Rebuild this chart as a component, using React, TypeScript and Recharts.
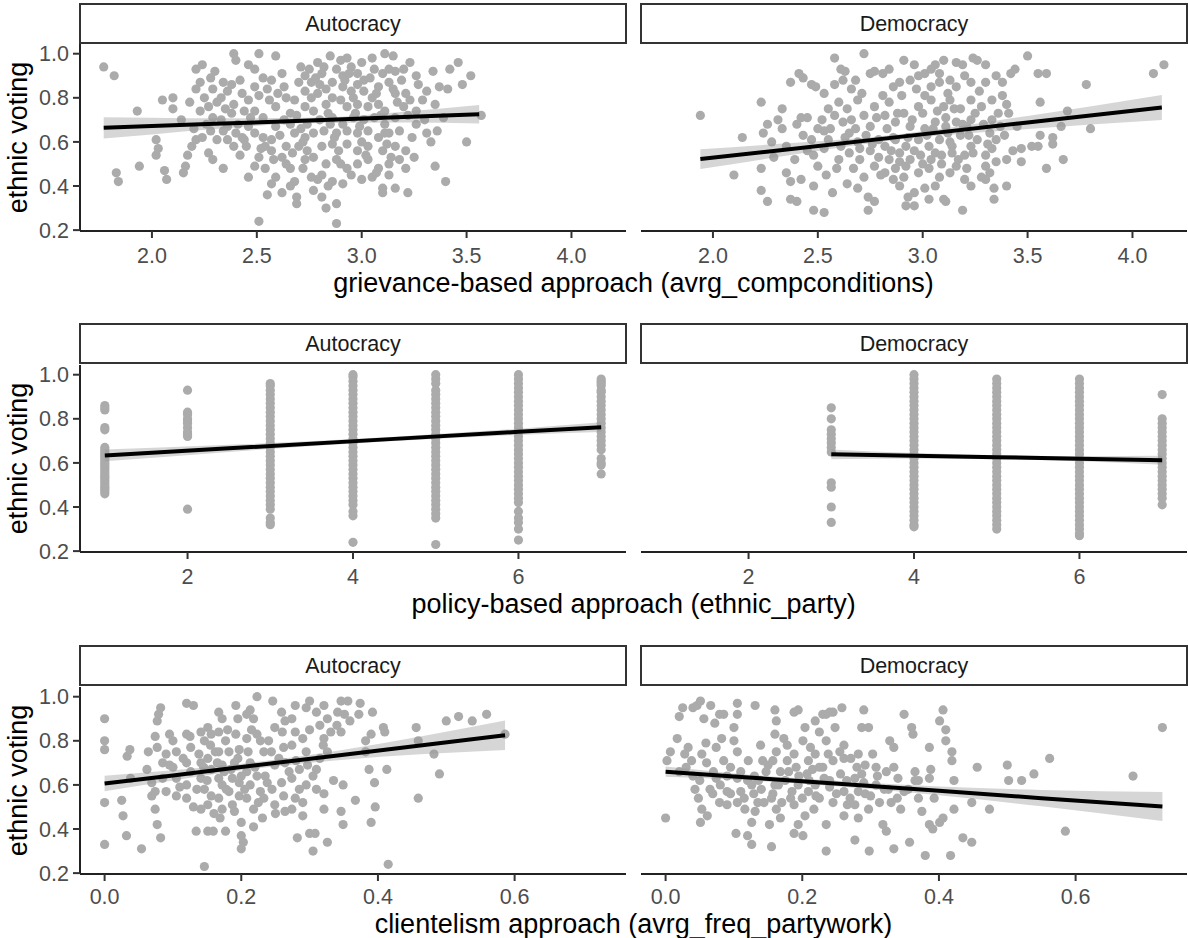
import React from "react";
import { ComposedChart, Scatter, Area, Line, XAxis, YAxis } from "recharts";

type Pt = [number, number];
type Fit = [number, number, number, number]; // x, fitted, lower, upper

const FONT = '"Liberation Sans", Arial, Helvetica, sans-serif';

const regimes = ["Autocracy", "Democracy"];
const yTicks = [0.2, 0.4, 0.6, 0.8, 1.0];
const yDomain: [number, number] = [0.196, 1.044];

// --- grievance-based approach ---
const grievTicks = [2.0, 2.5, 3.0, 3.5, 4.0];
const grievDomain: [number, number] = [1.657, 4.26];
const grievAut: Pt[] = [
  [1.77,0.94],[1.82,0.90],[1.83,0.46],[1.84,0.42],[1.94,0.49],[1.93,0.74],[2.05,0.79],[2.10,0.80],[2.10,0.75],[2.02,0.61],
  [2.03,0.57],[2.02,0.54],[2.06,0.47],[2.07,0.43],[2.15,0.46],[2.16,0.49],[2.17,0.54],[2.18,0.78],[2.14,0.70],[2.21,0.93],
  [2.24,0.95],[2.23,0.74],[2.23,0.87],[2.21,0.84],[2.19,0.58],[2.21,0.61],[2.24,0.62],[2.27,0.55],[2.29,0.52],[2.34,0.48],
  [2.30,0.92],[2.28,0.89],[2.29,0.84],[2.34,0.87],[2.33,0.80],[2.36,0.83],[2.39,1.00],[2.40,0.97],[2.39,0.77],[2.43,0.82],
  [2.38,0.73],[2.41,0.68],[2.36,0.67],[2.33,0.70],[2.29,0.71],[2.28,0.65],[2.31,0.61],[2.36,0.61],[2.39,0.58],[2.42,0.54],
  [2.43,0.62],[2.46,0.95],[2.49,0.93],[2.46,0.79],[2.49,0.85],[2.53,0.89],[2.51,1.00],[2.59,0.99],[2.56,0.79],[2.53,0.71],
  [2.49,0.74],[2.46,0.67],[2.49,0.64],[2.44,0.61],[2.53,0.62],[2.54,0.58],[2.57,0.61],[2.59,0.67],[2.62,0.91],[2.63,0.85],
  [2.64,0.80],[2.59,0.76],[2.66,0.73],[2.63,0.70],[2.49,0.49],[2.51,0.53],[2.54,0.48],[2.57,0.56],[2.59,0.44],[2.57,0.41],
  [2.55,0.36],[2.62,0.37],[2.62,0.53],[2.66,0.48],[2.68,0.42],[2.69,0.35],[2.69,0.32],[2.66,0.40],[2.46,0.44],[2.51,0.24],
  [2.71,0.94],[2.73,0.90],[2.76,0.87],[2.79,0.96],[2.81,0.91],[2.85,0.99],[2.90,0.97],[2.93,0.98],[2.88,0.93],[2.91,0.90],
  [2.95,0.94],[2.98,0.91],[3.00,0.96],[3.01,0.88],[3.05,0.98],[3.11,1.00],[3.15,0.99],[3.10,0.91],[3.13,0.93],[3.16,0.92],
  [3.20,0.93],[3.23,0.96],[3.26,0.90],[3.31,0.83],[3.42,0.93],[3.46,0.96],[3.52,0.90],[3.48,0.86],[3.41,0.84],[3.35,0.77],
  [3.26,0.74],[3.20,0.76],[3.16,0.82],[3.13,0.87],[3.08,0.85],[3.05,0.80],[3.01,0.83],[2.98,0.86],[2.95,0.83],[2.91,0.85],
  [2.86,0.87],[2.83,0.84],[2.79,0.82],[2.76,0.80],[2.73,0.83],[2.70,0.87],[2.68,0.79],[2.73,0.76],[2.77,0.74],[2.83,0.77],
  [2.86,0.80],[2.90,0.79],[2.93,0.76],[2.98,0.77],[3.03,0.76],[3.08,0.77],[3.11,0.74],[3.23,0.79],[2.86,0.71],[2.91,0.68],
  [2.96,0.71],[3.01,0.70],[3.06,0.71],[3.11,0.68],[3.16,0.71],[2.74,0.68],[2.80,0.70],[2.68,0.64],[2.73,0.62],[2.77,0.64],
  [2.82,0.65],[2.88,0.64],[2.93,0.65],[2.98,0.64],[3.03,0.65],[3.08,0.62],[3.13,0.64],[3.18,0.65],[3.26,0.68],[3.31,0.64],
  [3.36,0.65],[3.50,0.60],[3.57,0.72],[2.70,0.58],[2.74,0.56],[2.81,0.58],[2.86,0.59],[2.93,0.59],[2.98,0.56],[3.03,0.58],
  [3.10,0.56],[3.16,0.58],[3.21,0.56],[2.73,0.52],[2.77,0.53],[2.83,0.50],[2.88,0.52],[2.93,0.48],[2.98,0.50],[3.03,0.52],
  [3.08,0.48],[3.13,0.50],[3.18,0.52],[3.21,0.48],[2.76,0.44],[2.81,0.45],[2.86,0.42],[2.91,0.41],[3.00,0.43],[3.05,0.44],
  [3.10,0.39],[3.13,0.45],[3.16,0.39],[3.22,0.37],[3.10,0.37],[2.81,0.35],[2.83,0.30],[2.88,0.32],[2.88,0.23],[2.77,0.38],
  [3.35,0.49],[3.40,0.42],
  [2.25,0.80],[2.27,0.76],[2.31,0.78],[2.35,0.75],[2.38,0.86],[2.42,0.88],[2.44,0.74],[2.47,0.71],[2.51,0.81],[2.55,0.84],
  [2.57,0.88],[2.60,0.82],[2.61,0.63],[2.64,0.58],[2.67,0.55],[2.66,0.68],[2.69,0.72],[2.71,0.66],[2.72,0.60],[2.75,0.93],
  [2.78,0.89],[2.80,0.86],[2.82,0.94],[2.84,0.73],[2.85,0.68],[2.87,0.62],[2.89,0.56],[2.90,0.50],[2.92,0.88],[2.94,0.91],
  [2.96,0.80],[2.97,0.73],[2.99,0.67],[3.00,0.60],[3.02,0.54],[3.04,0.89],[3.06,0.93],[3.07,0.82],[3.09,0.72],[3.11,0.64],
  [3.12,0.59],[3.14,0.53],[3.15,0.84],[3.17,0.78],[3.19,0.88],[3.21,0.82],[3.22,0.72],[3.24,0.62],[3.25,0.53],[3.27,0.86],
  [3.29,0.79],[3.30,0.70],[3.33,0.60],[3.34,0.92],[3.37,0.85],[3.39,0.71],[2.79,0.43],[2.84,0.40],[2.95,0.45],[3.07,0.46],
  [2.72,0.48],[2.64,0.50],[2.58,0.52],[2.52,0.57],[2.45,0.58],[2.40,0.64],[2.34,0.65],[2.26,0.68],[2.20,0.66],
];
const grievDem: Pt[] = [
  [1.94,0.72],[2.14,0.62],[2.10,0.45],[2.23,0.78],[2.23,0.48],[2.23,0.38],[2.26,0.33],[2.24,0.64],[2.26,0.68],[2.28,0.60],
  [2.29,0.53],[2.33,0.75],[2.33,0.66],[2.35,0.58],[2.35,0.46],[2.37,0.87],[2.41,0.91],[2.43,0.89],[2.37,0.42],[2.37,0.34],
  [2.40,0.33],[2.39,0.52],[2.42,0.71],[2.45,0.71],[2.43,0.63],[2.42,0.43],[2.48,0.29],[2.53,0.28],[2.48,0.40],[2.47,0.86],
  [2.49,0.85],[2.53,0.82],[2.58,0.98],[2.61,0.93],[2.63,0.92],[2.58,0.86],[2.52,0.70],[2.50,0.66],[2.55,0.61],[2.53,0.57],
  [2.48,0.54],[2.50,0.49],[2.54,0.45],[2.57,0.37],[2.59,0.48],[2.60,0.52],[2.55,0.75],[2.60,0.78],[2.64,0.75],[2.62,0.69],
  [2.66,0.84],[2.69,0.79],[2.72,1.00],[2.75,0.91],[2.77,0.92],[2.81,0.91],[2.84,0.93],[2.65,0.64],[2.69,0.60],[2.65,0.55],
  [2.70,0.52],[2.67,0.48],[2.64,0.41],[2.69,0.39],[2.74,0.35],[2.74,0.29],[2.77,0.33],[2.72,0.44],[2.77,0.49],[2.75,0.56],
  [2.79,0.61],[2.75,0.67],[2.72,0.72],[2.77,0.76],[2.81,0.81],[2.84,0.78],[2.86,0.85],[2.89,0.87],[2.91,0.97],[2.96,0.95],
  [2.98,0.90],[3.01,0.91],[3.04,0.93],[3.06,0.95],[3.10,0.97],[3.16,0.96],[3.19,0.95],[3.24,0.98],[3.26,0.97],[3.30,0.95],
  [2.82,0.72],[2.87,0.69],[2.91,0.73],[2.94,0.67],[2.98,0.76],[3.01,0.81],[3.04,0.85],[3.08,0.87],[3.13,0.88],[3.16,0.85],
  [3.20,0.90],[3.23,0.87],[3.04,0.79],[3.10,0.76],[3.13,0.79],[3.18,0.75],[3.23,0.79],[3.28,0.76],[3.30,0.87],[3.35,0.90],
  [3.38,0.87],[3.42,0.91],[3.44,0.93],[3.38,0.81],[3.40,0.77],[3.41,0.73],[3.33,0.70],[3.37,0.67],[3.32,0.64],[3.35,0.61],
  [3.33,0.57],[3.30,0.54],[3.35,0.51],[3.40,0.52],[3.30,0.49],[3.26,0.61],[3.23,0.58],[3.20,0.54],[3.21,0.48],[3.20,0.43],
  [3.23,0.40],[3.28,0.44],[3.32,0.46],[3.30,0.43],[3.34,0.39],[3.40,0.40],[3.34,0.34],[3.11,0.33],[3.19,0.29],[3.10,0.34],
  [3.06,0.40],[3.03,0.34],[2.96,0.31],[2.92,0.31],[2.93,0.35],[2.96,0.37],[3.01,0.39],[2.89,0.40],[2.86,0.43],[2.82,0.46],
  [2.87,0.48],[2.92,0.49],[2.98,0.46],[3.03,0.48],[3.08,0.44],[3.13,0.46],[3.16,0.49],[2.84,0.52],[2.89,0.55],[2.94,0.52],
  [2.99,0.54],[3.04,0.52],[3.09,0.54],[3.14,0.55],[2.82,0.58],[2.87,0.61],[2.92,0.58],[2.98,0.61],[3.03,0.58],[3.08,0.61],
  [3.13,0.60],[3.18,0.63],[3.21,0.67],[3.16,0.69],[3.11,0.67],[3.06,0.69],[3.01,0.66],[3.23,0.70],[3.47,0.57],[3.47,0.51],
  [3.52,0.58],[3.55,0.58],[3.56,0.63],[3.56,0.78],[3.55,0.91],[3.59,0.91],[3.50,0.99],[3.59,0.48],[3.62,0.62],[3.62,0.59],
  [3.66,0.67],[3.69,0.74],[3.67,0.52],[3.78,0.86],[3.80,0.66],[4.10,0.91],[4.15,0.95],
  [2.56,0.66],[2.58,0.72],[2.61,0.58],[2.63,0.62],[2.66,0.70],[2.68,0.66],[2.70,0.57],[2.71,0.82],[2.73,0.63],[2.76,0.59],
  [2.78,0.71],[2.79,0.53],[2.80,0.45],[2.83,0.66],[2.85,0.56],[2.86,0.62],[2.88,0.73],[2.89,0.51],[2.90,0.81],[2.91,0.44],
  [2.93,0.62],[2.95,0.70],[2.96,0.56],[2.97,0.84],[3.00,0.73],[3.00,0.50],[3.02,0.63],[3.05,0.66],[3.06,0.55],[3.07,0.74],
  [3.09,0.50],[3.11,0.71],[3.12,0.64],[3.14,0.58],[3.15,0.75],[3.17,0.52],[3.19,0.68],[3.22,0.63],[3.24,0.55],[3.25,0.73],
  [3.27,0.83],[3.29,0.68],[3.31,0.59],[3.33,0.79],[3.36,0.73],[3.39,0.63],[3.43,0.56],[3.45,0.67],[2.53,0.65],[2.47,0.61],
  [2.45,0.56],[2.40,0.68],[2.31,0.70],[2.62,0.88],[2.68,0.88],[2.94,0.88],[3.08,0.91],[3.12,0.82],
];
const grievAutFit: Fit[] = [
  [1.77,0.664,0.616,0.712],[2.0,0.672,0.634,0.710],[2.3,0.682,0.658,0.707],[2.75,0.697,0.685,0.709],[3.2,0.713,0.688,0.737],[3.56,0.725,0.683,0.767],
];
const grievDemFit: Fit[] = [
  [1.94,0.522,0.477,0.567],[2.3,0.560,0.530,0.590],[2.9,0.624,0.612,0.636],[3.5,0.688,0.658,0.718],[4.14,0.756,0.699,0.813],
];

// --- policy-based approach ---
const policyTicks = [2, 4, 6];
const policyDomain: [number, number] = [0.7, 7.3];
const policyAutCols: [number, number[]][] = [
  [1, [0.86,0.85,0.84,0.76,0.75,0.67,0.66,0.65,0.64,0.63,0.62,0.61,0.60,0.59,0.58,0.57,0.56,0.55,0.54,0.53,0.52,0.51,0.50,0.49,0.48,0.47,0.46]],
  [2, [0.93,0.83,0.82,0.80,0.79,0.78,0.76,0.74,0.73,0.72,0.39]],
  [3, [0.96,0.95,0.93,0.91,0.89,0.87,0.85,0.83,0.81,0.79,0.77,0.75,0.73,0.71,0.69,0.67,0.65,0.63,0.61,0.59,0.57,0.55,0.53,0.51,0.49,0.47,0.45,0.43,0.41,0.39,0.35,0.33,0.32]],
  [4, [1.00,0.99,0.97,0.95,0.93,0.91,0.89,0.87,0.85,0.83,0.81,0.79,0.77,0.75,0.73,0.71,0.69,0.67,0.65,0.63,0.61,0.59,0.57,0.55,0.53,0.51,0.49,0.47,0.45,0.43,0.41,0.38,0.36,0.24]],
  [5, [1.00,0.98,0.96,0.93,0.91,0.89,0.87,0.85,0.83,0.81,0.79,0.77,0.75,0.73,0.71,0.69,0.67,0.65,0.63,0.61,0.59,0.57,0.55,0.53,0.51,0.49,0.47,0.45,0.43,0.41,0.39,0.37,0.35,0.23]],
  [6, [1.00,0.98,0.96,0.94,0.92,0.90,0.88,0.86,0.84,0.82,0.80,0.78,0.76,0.74,0.72,0.70,0.68,0.66,0.64,0.62,0.60,0.58,0.56,0.54,0.52,0.50,0.48,0.46,0.44,0.42,0.38,0.35,0.33,0.30,0.25]],
  [7, [0.98,0.97,0.96,0.95,0.93,0.92,0.90,0.88,0.86,0.84,0.82,0.80,0.78,0.76,0.74,0.72,0.70,0.68,0.66,0.62,0.60,0.59,0.55]],
];
const policyDemCols: [number, number[]][] = [
  [3, [0.85,0.80,0.75,0.73,0.71,0.69,0.67,0.65,0.51,0.49,0.40,0.33]],
  [4, [1.00,0.98,0.96,0.94,0.92,0.90,0.88,0.86,0.84,0.82,0.80,0.78,0.76,0.74,0.72,0.70,0.68,0.66,0.64,0.62,0.60,0.58,0.56,0.54,0.52,0.50,0.48,0.46,0.44,0.42,0.40,0.38,0.36,0.34,0.32,0.31]],
  [5, [0.98,0.96,0.94,0.92,0.90,0.88,0.86,0.84,0.82,0.80,0.78,0.76,0.74,0.72,0.70,0.68,0.66,0.64,0.62,0.60,0.58,0.56,0.54,0.52,0.50,0.48,0.46,0.44,0.42,0.40,0.38,0.36,0.34,0.32,0.30]],
  [6, [0.98,0.96,0.94,0.92,0.90,0.88,0.86,0.84,0.82,0.80,0.78,0.76,0.74,0.72,0.70,0.68,0.66,0.64,0.62,0.60,0.58,0.56,0.54,0.52,0.50,0.48,0.46,0.44,0.42,0.40,0.38,0.36,0.34,0.32,0.30,0.28,0.27]],
  [7, [0.91,0.80,0.78,0.76,0.74,0.72,0.70,0.68,0.66,0.64,0.62,0.60,0.58,0.56,0.54,0.52,0.50,0.48,0.46,0.44,0.41]],
];
const policyAutFit: Fit[] = [
  [1,0.634,0.607,0.661],[2.5,0.666,0.650,0.682],[4.5,0.709,0.699,0.719],[6,0.741,0.727,0.755],[7,0.762,0.740,0.784],
];
const policyDemFit: Fit[] = [
  [3,0.639,0.617,0.661],[4,0.632,0.620,0.645],[5,0.626,0.617,0.635],[6,0.619,0.607,0.631],[7,0.612,0.592,0.632],
];

// --- clientelism approach ---
const clientTicks = [0.0, 0.2, 0.4, 0.6];
const clientDomain: [number, number] = [-0.036, 0.763];
const clientAut: Pt[] = [
  [0,0.90],[0,0.80],[0,0.76],[0,0.52],[0,0.33],[0.025,0.53],[0.027,0.46],[0.032,0.37],[0.054,0.31],[0.033,0.73],
  [0.037,0.76],[0.064,0.75],[0.038,0.63],[0.069,0.61],[0.062,0.67],[0.077,0.89],[0.079,0.92],[0.082,0.95],[0.074,0.82],[0.077,0.77],
  [0.085,0.70],[0.074,0.57],[0.069,0.55],[0.074,0.49],[0.077,0.42],[0.082,0.36],[0.09,0.57],[0.095,0.83],[0.10,0.80],[0.105,0.75],
  [0.095,0.69],[0.105,0.63],[0.105,0.55],[0.12,0.97],[0.13,0.96],[0.12,0.83],[0.126,0.77],[0.12,0.70],[0.126,0.66],[0.12,0.60],
  [0.12,0.54],[0.13,0.50],[0.134,0.39],[0.146,0.23],[0.141,0.84],[0.141,0.70],[0.141,0.63],[0.146,0.80],[0.151,0.86],[0.156,0.83],
  [0.162,0.75],[0.151,0.72],[0.156,0.67],[0.146,0.58],[0.156,0.55],[0.151,0.51],[0.141,0.49],[0.151,0.39],[0.159,0.39],[0.167,0.93],
  [0.172,0.90],[0.167,0.84],[0.167,0.75],[0.172,0.69],[0.167,0.63],[0.172,0.60],[0.167,0.54],[0.172,0.49],[0.169,0.45],[0.177,0.39],
  [0.177,0.80],[0.182,0.75],[0.185,0.67],[0.187,0.63],[0.182,0.57],[0.187,0.51],[0.192,0.96],[0.195,0.90],[0.192,0.83],[0.197,0.76],
  [0.195,0.72],[0.197,0.61],[0.197,0.55],[0.20,0.43],[0.20,0.37],[0.20,0.31],[0.203,0.34],[0.208,0.92],[0.213,0.94],[0.218,0.90],
  [0.208,0.81],[0.213,0.70],[0.208,0.66],[0.213,0.60],[0.208,0.54],[0.218,0.49],[0.218,0.41],[0.223,1.00],[0.223,0.83],[0.228,0.80],
  [0.233,0.75],[0.223,0.64],[0.228,0.57],[0.233,0.54],[0.231,0.45],[0.246,0.98],[0.249,0.86],[0.244,0.75],[0.249,0.69],[0.238,0.61],
  [0.249,0.51],[0.259,0.93],[0.264,0.89],[0.262,0.77],[0.264,0.70],[0.259,0.61],[0.262,0.55],[0.264,0.48],[0.274,0.90],[0.279,0.84],
  [0.274,0.78],[0.285,0.67],[0.274,0.63],[0.279,0.54],[0.274,0.49],[0.29,0.46],[0.282,0.36],[0.279,0.96],[0.295,0.95],[0.30,0.98],
  [0.29,0.81],[0.295,0.75],[0.297,0.69],[0.295,0.60],[0.30,0.38],[0.308,0.38],[0.305,0.30],[0.31,0.93],[0.321,0.96],[0.315,0.87],
  [0.321,0.81],[0.31,0.67],[0.31,0.58],[0.321,0.56],[0.321,0.49],[0.326,0.34],[0.326,0.90],[0.331,0.84],[0.326,0.75],[0.346,0.98],
  [0.356,0.98],[0.341,0.93],[0.351,0.92],[0.359,0.89],[0.346,0.84],[0.349,0.60],[0.346,0.48],[0.349,0.42],[0.367,0.53],[0.374,0.97],
  [0.372,0.92],[0.392,0.93],[0.382,0.80],[0.382,0.75],[0.387,0.67],[0.39,0.83],[0.395,0.61],[0.396,0.50],[0.39,0.43],[0.408,0.86],
  [0.41,0.84],[0.413,0.67],[0.415,0.24],[0.459,0.54],[0.456,0.86],[0.459,0.80],[0.482,0.74],[0.49,0.65],[0.50,0.89],[0.518,0.91],
  [0.538,0.89],[0.559,0.92],[0.586,0.83],
  [0.085,0.63],[0.09,0.74],[0.10,0.68],[0.11,0.59],[0.115,0.72],[0.125,0.82],[0.135,0.58],[0.138,0.74],[0.145,0.68],[0.15,0.62],
  [0.155,0.78],[0.16,0.47],[0.165,0.70],[0.175,0.66],[0.178,0.58],[0.18,0.85],[0.19,0.70],[0.19,0.48],[0.20,0.64],[0.205,0.58],
  [0.21,0.75],[0.215,0.85],[0.22,0.68],[0.225,0.52],[0.235,0.64],[0.24,0.80],[0.245,0.58],[0.25,0.47],[0.255,0.72],[0.26,0.84],
  [0.27,0.66],[0.28,0.71],[0.285,0.58],[0.29,0.52],[0.30,0.85],[0.305,0.64],[0.315,0.72],[0.32,0.78],[0.335,0.62],[0.34,0.87],
];
const clientDem: Pt[] = [
  [0.0,0.45],[0.002,0.71],[0.007,0.75],[0.017,0.81],[0.02,0.91],[0.025,0.95],[0.028,0.74],[0.033,0.77],[0.038,0.71],[0.04,0.95],
  [0.046,0.96],[0.051,0.98],[0.056,0.90],[0.059,0.79],[0.053,0.74],[0.043,0.58],[0.048,0.54],[0.053,0.49],[0.051,0.43],[0.061,0.46],
  [0.066,0.96],[0.072,0.88],[0.079,0.92],[0.085,0.92],[0.082,0.81],[0.074,0.77],[0.085,0.71],[0.074,0.63],[0.069,0.56],[0.079,0.52],
  [0.09,0.57],[0.09,0.51],[0.10,0.86],[0.105,0.97],[0.105,0.92],[0.10,0.80],[0.105,0.75],[0.095,0.68],[0.105,0.63],[0.11,0.57],
  [0.105,0.52],[0.116,0.49],[0.103,0.38],[0.12,0.37],[0.126,0.33],[0.131,0.96],[0.121,0.71],[0.126,0.60],[0.129,0.56],[0.131,0.48],
  [0.126,0.43],[0.139,0.78],[0.142,0.71],[0.147,0.66],[0.136,0.62],[0.144,0.52],[0.152,0.42],[0.155,0.32],[0.16,0.94],[0.162,0.89],
  [0.16,0.83],[0.162,0.75],[0.157,0.71],[0.168,0.66],[0.16,0.60],[0.157,0.56],[0.162,0.49],[0.168,0.45],[0.173,0.81],[0.178,0.78],
  [0.178,0.71],[0.175,0.62],[0.183,0.54],[0.188,0.93],[0.194,0.94],[0.188,0.74],[0.191,0.68],[0.194,0.60],[0.188,0.51],[0.194,0.42],
  [0.188,0.38],[0.201,0.37],[0.204,0.86],[0.201,0.80],[0.209,0.71],[0.207,0.65],[0.209,0.57],[0.204,0.46],[0.212,0.77],[0.219,0.89],
  [0.225,0.84],[0.219,0.74],[0.225,0.68],[0.219,0.60],[0.225,0.54],[0.217,0.49],[0.23,0.92],[0.235,0.92],[0.24,0.93],[0.245,0.93],
  [0.248,0.86],[0.235,0.80],[0.238,0.74],[0.245,0.71],[0.232,0.63],[0.24,0.59],[0.245,0.52],[0.235,0.42],[0.235,0.30],[0.258,0.95],
  [0.261,0.78],[0.261,0.72],[0.256,0.65],[0.261,0.57],[0.266,0.51],[0.261,0.46],[0.277,0.35],[0.271,0.72],[0.282,0.74],[0.277,0.63],
  [0.282,0.57],[0.277,0.51],[0.282,0.45],[0.29,0.94],[0.287,0.86],[0.297,0.86],[0.292,0.69],[0.287,0.65],[0.292,0.56],[0.297,0.49],
  [0.298,0.30],[0.303,0.74],[0.308,0.68],[0.308,0.60],[0.313,0.52],[0.318,0.42],[0.323,0.39],[0.328,0.80],[0.334,0.77],[0.323,0.66],
  [0.334,0.68],[0.326,0.58],[0.334,0.31],[0.339,0.54],[0.344,0.49],[0.349,0.92],[0.349,0.57],[0.36,0.86],[0.362,0.83],[0.357,0.34],
  [0.365,0.66],[0.365,0.62],[0.37,0.54],[0.375,0.48],[0.38,0.28],[0.386,0.77],[0.388,0.67],[0.386,0.63],[0.386,0.42],[0.391,0.40],
  [0.393,0.54],[0.401,0.89],[0.406,0.94],[0.41,0.85],[0.41,0.80],[0.401,0.43],[0.406,0.45],[0.417,0.28],[0.419,0.75],[0.419,0.71],
  [0.422,0.62],[0.422,0.49],[0.435,0.36],[0.448,0.34],[0.448,0.52],[0.456,0.68],[0.474,0.49],[0.50,0.69],[0.502,0.62],[0.521,0.62],
  [0.539,0.65],[0.562,0.72],[0.585,0.39],[0.684,0.64],[0.727,0.86],
  [0.02,0.66],[0.03,0.68],[0.04,0.64],[0.05,0.62],[0.06,0.70],[0.065,0.58],[0.07,0.66],[0.08,0.60],[0.09,0.64],[0.095,0.56],
  [0.11,0.66],[0.115,0.54],[0.12,0.62],[0.13,0.64],[0.135,0.52],[0.14,0.58],[0.15,0.69],[0.155,0.54],[0.165,0.60],[0.17,0.52],
  [0.18,0.66],[0.185,0.57],[0.195,0.64],[0.20,0.54],[0.21,0.62],[0.215,0.67],[0.22,0.55],[0.23,0.68],[0.24,0.62],[0.25,0.56],
  [0.255,0.75],[0.265,0.62],[0.27,0.54],[0.28,0.68],[0.29,0.61],[0.30,0.55],[0.31,0.64],[0.32,0.58],[0.33,0.52],[0.34,0.63],
  [0.355,0.58],[0.37,0.62],
];
const clientAutFit: Fit[] = [
  [0,0.606,0.571,0.641],[0.1,0.643,0.620,0.666],[0.2,0.681,0.666,0.696],[0.35,0.737,0.714,0.760],[0.586,0.825,0.758,0.892],
];
const clientDemFit: Fit[] = [
  [0,0.660,0.637,0.683],[0.1,0.638,0.624,0.652],[0.2,0.617,0.605,0.629],[0.4,0.573,0.553,0.593],[0.55,0.540,0.503,0.577],[0.727,0.502,0.436,0.568],
];

const fromCols = (cols: [number, number[]][]): Pt[] =>
  cols.flatMap(([x, ys]) => ys.map((y) => [x, y] as Pt));

const PLOT_H = 187;
const AXIS_H = 50;
const TOP_PAD = 12;
const PANEL_W = 546;
const YAXIS_W = 80;
const RIGHT_X = 641;

const dot = (p: any) => <circle cx={p.cx} cy={p.cy} r={4.6} fill="#ababab" />;

function Panel(props: {
  points: Pt[];
  fit: Fit[];
  xDomain: [number, number];
  xTicks: number[];
  digits: number;
  tickGap: number;
  left: number;
  top: number;
  showY: boolean;
}) {
  const { points, fit, xDomain, xTicks, digits, tickGap, left, top, showY } = props;
  const pts = points.map(([x, y]) => ({ x, y }));
  const fitData = fit.map(([x, f, lo, hi]) => ({ x, fit: f, band: [lo, hi] }));
  return (
    <div style={{ position: "absolute", left, top: top - TOP_PAD }}>
      <ComposedChart
        width={showY ? PANEL_W + YAXIS_W : PANEL_W}
        height={PLOT_H + AXIS_H + TOP_PAD}
        margin={{ top: TOP_PAD, right: 0, bottom: 0, left: 0 }}
      >
        <XAxis
          type="number"
          dataKey="x"
          domain={xDomain}
          ticks={xTicks}
          interval={0}
          allowDataOverflow
          height={AXIS_H}
          tickFormatter={(v: number) => v.toFixed(digits)}
          tickSize={7}
          tickMargin={tickGap}
          axisLine={{ stroke: "#222", strokeWidth: 2 }}
          tickLine={{ stroke: "#333", strokeWidth: 2 }}
          tick={{ fill: "#4d4d4d", fontSize: 21.5 }}
        />
        <YAxis
          type="number"
          domain={yDomain}
          ticks={yTicks}
          interval={0}
          allowDataOverflow
          hide={!showY}
          width={YAXIS_W}
          tickFormatter={(v: number) => v.toFixed(1)}
          tickSize={7}
          tickMargin={4}
          axisLine={{ stroke: "#222", strokeWidth: 2 }}
          tickLine={{ stroke: "#333", strokeWidth: 2 }}
          tick={{ fill: "#4d4d4d", fontSize: 21.5 }}
        />
        <Scatter data={pts} dataKey="y" shape={dot} isAnimationActive={false} zIndex={50} />
        <Area
          data={fitData}
          dataKey="band"
          type="monotone"
          stroke="none"
          fill="#999999"
          fillOpacity={0.4}
          isAnimationActive={false}
          zIndex={100}
        />
        <Line
          data={fitData}
          dataKey="fit"
          type="linear"
          stroke="#000"
          strokeWidth={4}
          dot={false}
          activeDot={false}
          isAnimationActive={false}
          zIndex={400}
        />
      </ComposedChart>
    </div>
  );
}

const rows = [
  {
    stripTop: 3, plotTop: 44, titleY: 292, tickGap: 10,
    title: "grievance-based approach (avrg_compconditions)",
    aut: grievAut, dem: grievDem, autFit: grievAutFit, demFit: grievDemFit,
    domain: grievDomain, ticks: grievTicks, digits: 1,
  },
  {
    stripTop: 323, plotTop: 365, titleY: 613, tickGap: 10,
    title: "policy-based approach (ethnic_party)",
    aut: fromCols(policyAutCols), dem: fromCols(policyDemCols), autFit: policyAutFit, demFit: policyDemFit,
    domain: policyDomain, ticks: policyTicks, digits: 0,
  },
  {
    stripTop: 645, plotTop: 687, titleY: 933, tickGap: 8,
    title: "clientelism approach (avrg_freq_partywork)",
    aut: clientAut, dem: clientDem, autFit: clientAutFit, demFit: clientDemFit,
    domain: clientDomain, ticks: clientTicks, digits: 1,
  },
];

export default function App() {
  const stripXs = [YAXIS_W, RIGHT_X];
  return (
    <div
      style={{
        position: "absolute", left: 0, top: 0, width: 1188, height: 938,
        background: "#fff", fontFamily: FONT, overflow: "hidden",
      }}
    >
      {rows.map((r, i) => (
        <React.Fragment key={i}>
          <Panel points={r.aut} fit={r.autFit} xDomain={r.domain} xTicks={r.ticks} digits={r.digits} tickGap={r.tickGap} left={0} top={r.plotTop} showY />
          <Panel points={r.dem} fit={r.demFit} xDomain={r.domain} xTicks={r.ticks} digits={r.digits} tickGap={r.tickGap} left={RIGHT_X} top={r.plotTop} showY={false} />
        </React.Fragment>
      ))}
      <svg width={1188} height={938} style={{ position: "absolute", left: 0, top: 0, pointerEvents: "none" }} fontFamily={FONT}>
        {rows.map((r, i) => (
          <g key={i}>
            {stripXs.map((sx, j) => (
              <g key={j}>
                <rect x={sx} y={r.stripTop + 1} width={PANEL_W} height={39} fill="#fff" stroke="#333" strokeWidth={2} />
                <text x={sx + PANEL_W / 2} y={r.stripTop + 28} textAnchor="middle" fontSize={21.5} fill="#1a1a1a">
                  {regimes[j]}
                </text>
              </g>
            ))}
            <text
              transform={`translate(27, ${r.plotTop + PLOT_H / 2}) rotate(-90)`}
              textAnchor="middle"
              fontSize={27}
              fill="#000"
            >
              ethnic voting
            </text>
            <text x={(YAXIS_W + RIGHT_X + PANEL_W) / 2} y={r.titleY} textAnchor="middle" fontSize={27} fill="#000">
              {r.title}
            </text>
          </g>
        ))}
      </svg>
    </div>
  );
}
